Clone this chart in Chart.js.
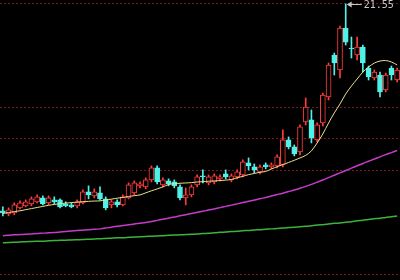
<!DOCTYPE html>
<html>
<head>
<meta charset="utf-8">
<script src="https://cdn.jsdelivr.net/npm/chart.js@4"></script>
<style>
  html, body { margin: 0; padding: 0; background: #000; }
  #wrap { width: 400px; height: 280px; position: relative; }
</style>
</head>
<body>
<div id="wrap"><canvas id="kline"></canvas></div>
<script>
// daily candles
const days = Array.from({ length: 70 }, (_, i) => "D" + (i + 1));
const opens = [8.397, 8.206, 8.270, 8.587, 8.714, 8.841, 8.968, 9.222, 8.905, 9.095,
  9.095, 8.841, 8.778, 8.714, 8.905, 9.603, 9.349, 9.540, 9.159, 8.778,
  8.968, 8.778, 9.222, 9.540, 9.984, 9.921, 10.365, 11.127, 10.048, 10.302,
  10.238, 9.921, 9.222, 9.413, 10.048, 10.619, 10.175, 10.238, 10.429, 10.746,
  10.365, 10.556, 10.683, 11.445, 11.191, 10.873, 11.318, 11.191, 11.254, 11.318,
  12.905, 12.460, 12.143, 14.048, 14.175, 12.905, 13.984, 15.635, 18.302, 17.349,
  20.016, 18.746, 18.302, 18.810, 17.476, 16.842, 17.032, 16.080, 17.476, 16.714];
const closes = [8.270, 8.460, 8.778, 8.905, 8.968, 9.159, 9.286, 8.841, 9.222, 8.968,
  8.651, 8.714, 8.651, 8.968, 9.603, 9.413, 9.603, 9.159, 8.587, 8.968,
  8.778, 9.286, 10.048, 10.175, 10.111, 10.365, 11.127, 10.238, 10.365, 10.111,
  9.984, 9.222, 9.413, 9.921, 10.556, 10.556, 10.556, 10.619, 10.556, 10.556,
  10.619, 10.873, 11.508, 11.254, 11.000, 11.191, 11.191, 11.318, 11.826, 12.905,
  12.460, 12.016, 13.730, 15.000, 13.032, 13.857, 15.762, 17.667, 17.794, 20.016,
  19.127, 18.683, 18.810, 17.794, 16.905, 17.222, 15.953, 17.032, 17.032, 17.349];
const highs = [8.651, 8.587, 8.905, 9.032, 9.095, 9.286, 9.413, 9.349, 9.349, 9.286,
  9.159, 8.968, 8.905, 9.095, 9.730, 9.984, 9.794, 9.921, 9.286, 9.095,
  9.095, 9.413, 10.175, 10.302, 10.238, 10.492, 11.254, 11.254, 10.492, 10.429,
  10.365, 10.048, 9.857, 10.048, 10.683, 11.000, 10.683, 10.746, 10.683, 11.000,
  10.746, 11.000, 11.635, 11.762, 11.381, 11.318, 11.445, 11.445, 11.953, 13.540,
  13.095, 12.588, 13.857, 15.572, 14.810, 13.984, 15.889, 17.794, 18.429, 20.143,
  21.55, 19.445, 19.445, 18.937, 17.603, 17.349, 17.222, 17.159, 17.603, 17.476];
const lows = [8.079, 8.079, 8.143, 8.524, 8.651, 8.714, 8.905, 8.778, 8.778, 8.841,
  8.587, 8.651, 8.587, 8.587, 8.841, 9.159, 9.222, 9.095, 8.460, 8.587,
  8.651, 8.714, 9.159, 9.413, 9.857, 9.794, 10.238, 10.111, 9.921, 9.984,
  9.857, 9.095, 8.778, 9.286, 9.921, 10.175, 10.048, 10.111, 10.302, 10.429,
  10.238, 10.429, 10.556, 11.000, 10.810, 10.746, 11.064, 11.064, 11.127, 11.191,
  12.333, 11.889, 11.953, 13.857, 12.714, 12.778, 13.794, 15.445, 17.032, 16.842,
  18.937, 18.111, 17.984, 17.222, 16.714, 16.714, 15.635, 15.953, 16.714, 16.587];

// moving averages
const maShort = [8.23, 8.29, 8.35, 8.40, 8.47, 8.54, 8.61, 8.68, 8.75, 8.80,
  8.85, 8.89, 8.92, 8.95, 8.98, 9.00, 9.02, 9.03, 9.09, 9.14,
  9.20, 9.25, 9.31, 9.36, 9.41, 9.54, 9.67, 9.79, 9.92, 10.07,
  10.12, 10.15, 10.17, 10.19, 10.23, 10.25, 10.28, 10.30, 10.32, 10.35,
  10.39, 10.50, 10.59, 10.70, 10.77, 10.85, 10.90, 11.06, 11.20, 11.34,
  11.47, 11.61, 11.76, 11.92, 12.21, 12.71, 13.29, 13.98, 14.62, 15.19,
  15.83, 16.33, 16.78, 17.22, 17.54, 17.79, 17.92, 17.95, 17.86, 17.67];
const maMid = [6.82, 6.84, 6.87, 6.89, 6.91, 6.93, 6.95, 6.98, 7.00, 7.02,
  7.05, 7.08, 7.11, 7.14, 7.17, 7.20, 7.22, 7.25, 7.30, 7.36,
  7.41, 7.46, 7.51, 7.56, 7.61, 7.66, 7.72, 7.79, 7.86, 7.93,
  8.00, 8.08, 8.15, 8.23, 8.30, 8.37, 8.45, 8.52, 8.60, 8.68,
  8.76, 8.84, 8.92, 9.00, 9.08, 9.16, 9.25, 9.34, 9.43, 9.52,
  9.62, 9.72, 9.83, 9.95, 10.08, 10.22, 10.36, 10.51, 10.66, 10.81,
  10.96, 11.11, 11.26, 11.41, 11.55, 11.69, 11.83, 11.97, 12.10, 12.23];
const maLong = [6.37, 6.38, 6.40, 6.42, 6.43, 6.45, 6.46, 6.47, 6.49, 6.51,
  6.52, 6.53, 6.55, 6.56, 6.57, 6.59, 6.61, 6.62, 6.64, 6.66,
  6.68, 6.69, 6.71, 6.73, 6.75, 6.77, 6.78, 6.80, 6.82, 6.84,
  6.86, 6.87, 6.89, 6.91, 6.92, 6.95, 6.97, 7.00, 7.03, 7.05,
  7.08, 7.10, 7.13, 7.15, 7.18, 7.20, 7.23, 7.25, 7.28, 7.30,
  7.33, 7.36, 7.38, 7.41, 7.45, 7.49, 7.52, 7.56, 7.60, 7.63,
  7.67, 7.71, 7.76, 7.80, 7.85, 7.89, 7.93, 7.98, 8.02, 8.07];

// dotted price lines
const gridPrices = [21.6, 15, 13, 11, 4.4];
const peakIndex = 60;
const peakLabel = "21.55";

const UP = "#ff3c3c";
const DOWN = "#4ef2e8";
const isUp = opens.map((o, i) => closes[i] >= o);

const gridPlugin = {
  id: "priceGrid",
  beforeDatasetsDraw(chart) {
    const { ctx, chartArea, scales } = chart;
    ctx.save();
    ctx.strokeStyle = "#7a1c1c";
    ctx.lineWidth = 1;
    ctx.setLineDash([2, 2]);
    gridPrices.forEach(p => {
      const y = Math.round(scales.y.getPixelForValue(p)) + 0.5;
      ctx.beginPath();
      ctx.moveTo(chartArea.left, y);
      ctx.lineTo(chartArea.right, y);
      ctx.stroke();
    });
    ctx.restore();
  },
  afterDatasetsDraw(chart) {
    const { ctx, scales } = chart;
    const x = scales.x.getPixelForValue(peakIndex);
    const y = Math.round(scales.y.getPixelForValue(highs[peakIndex])) + 0.5;
    ctx.save();
    ctx.strokeStyle = "#c8c8c8";
    ctx.fillStyle = "#c8c8c8";
    ctx.lineWidth = 1;
    ctx.beginPath();
    ctx.moveTo(x + 2, y);
    ctx.lineTo(x + 16, y);
    ctx.stroke();
    ctx.beginPath();
    ctx.moveTo(x + 1, y);
    ctx.lineTo(x + 6, y - 3);
    ctx.lineTo(x + 6, y + 3);
    ctx.closePath();
    ctx.fill();
    ctx.font = "10px 'DejaVu Sans Mono', monospace";
    ctx.textBaseline = "middle";
    ctx.fillText(peakLabel, x + 18, y + 1);
    ctx.restore();
  }
};

new Chart(document.getElementById("kline"), {
  type: "bar",
  data: {
    labels: days,
    datasets: [
      {
        type: "line",
        label: "MA short",
        data: maShort,
        borderColor: "#eee08a",
        borderWidth: 1,
        pointRadius: 0,
        tension: 0.3,
        order: 0
      },
      {
        type: "line",
        label: "MA mid",
        data: maMid,
        borderColor: "#c43cc8",
        borderWidth: 1.5,
        pointRadius: 0,
        tension: 0.3,
        order: 0
      },
      {
        type: "line",
        label: "MA long",
        data: maLong,
        borderColor: "#3cb43c",
        borderWidth: 1.5,
        pointRadius: 0,
        tension: 0.3,
        order: 0
      },
      {
        label: "body",
        data: opens.map((o, i) => [o, closes[i]]),
        backgroundColor: isUp.map(u => (u ? "#000" : DOWN)),
        borderColor: isUp.map(u => (u ? UP : DOWN)),
        borderWidth: 1,
        borderSkipped: false,
        barThickness: 5,
        grouped: false,
        order: 1
      },
      {
        label: "wick",
        data: lows.map((l, i) => [l, highs[i]]),
        backgroundColor: isUp.map(u => (u ? UP : DOWN)),
        barThickness: 1,
        grouped: false,
        order: 2
      }
    ]
  },
  options: {
    responsive: true,
    maintainAspectRatio: false,
    animation: false,
    layout: { padding: 0 },
    plugins: {
      legend: { display: false },
      tooltip: { enabled: false }
    },
    scales: {
      x: { display: false, offset: true },
      y: { display: false, min: 4.0, max: 21.8 }
    }
  },
  plugins: [gridPlugin]
});
</script>
</body>
</html>
